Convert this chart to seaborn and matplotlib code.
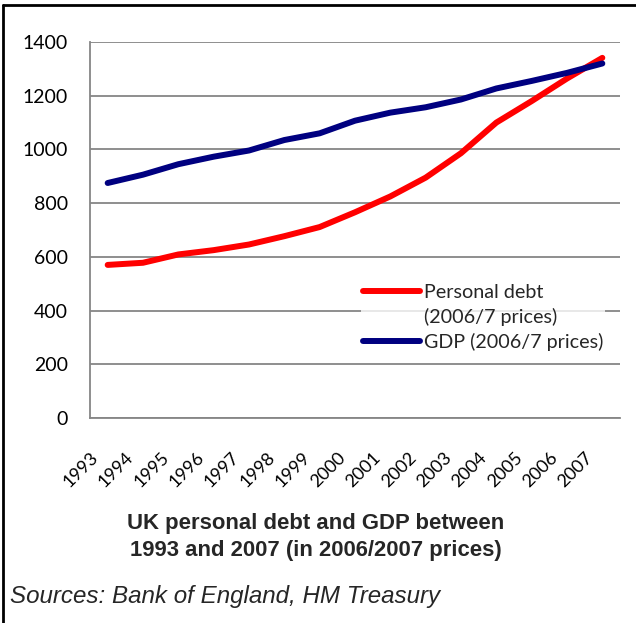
import numpy as np
import pandas as pd
import seaborn as sns
import matplotlib.pyplot as plt
from matplotlib.lines import Line2D

# values
years = ['1993', '1994', '1995', '1996', '1997', '1998', '1999', '2000',
         '2001', '2002', '2003', '2004', '2005', '2006', '2007']
personal_debt = [570, 578, 609, 625, 646, 677, 711, 766, 825, 895, 986, 1100, 1180, 1264, 1341]
gdp = [875, 906, 945, 973, 996, 1035, 1060, 1107, 1137, 1157, 1186, 1227, 1255, 1285, 1320]

debt_label = 'Personal debt'
debt_label_2 = '(2006/7 prices)'
gdp_label = 'GDP (2006/7 prices)'

df = pd.DataFrame({
    'pos': np.arange(len(years)) + 0.5,
    debt_label: personal_debt,
    gdp_label: gdp,
}).melt(id_vars='pos', var_name='series', value_name='value')

sns.set_style('white')
plt.rcParams['font.family'] = ['Lato', 'DejaVu Sans']

fig = plt.figure(figsize=(6.36, 6.23), dpi=100)
ax = fig.add_axes([90 / 636, 1 - 418 / 623, (620 - 90) / 636, (418 - 42) / 623])

sns.lineplot(data=df, x='pos', y='value', hue='series',
             palette={debt_label: '#ff0000', gdp_label: '#000080'},
             linewidth=4.3, ax=ax, legend=False)

grey = '#868686'
ax.set_xlim(0, len(years))
ax.set_ylim(0, 1400)
ax.set_yticks(range(0, 1401, 200))
ax.yaxis.grid(True, color=grey, linewidth=1.3)
ax.set_axisbelow(True)
for side in ['top', 'right']:
    ax.spines[side].set_visible(False)
for side in ['left', 'bottom']:
    ax.spines[side].set_color(grey)
    ax.spines[side].set_linewidth(1.3)

ax.set_xticks(range(len(years) + 1))
ax.set_xticklabels(years + [''])
ax.tick_params(axis='both', direction='out', length=5.8, width=1.3, color=grey,
               labelcolor='black')
ax.tick_params(axis='y', labelsize=14, pad=10)
ax.tick_params(axis='x', labelsize=13, pad=17)
for lbl in ax.get_xticklabels():
    lbl.set_rotation(45)
    lbl.set_ha('right')
    lbl.set_va('top')
    lbl.set_rotation_mode('anchor')
ax.set_xlabel('')
ax.set_ylabel('')

handles = [Line2D([], [], color='#ff0000', linewidth=4.3),
           Line2D([], [], color='none'),
           Line2D([], [], color='#000080', linewidth=4.3)]
leg = ax.legend(handles, [debt_label, debt_label_2, gdp_label], loc='upper left',
                bbox_to_anchor=((361 - 90) / 530, (418 - 282) / 376), frameon=True,
                facecolor='white', edgecolor='none', fontsize=14.2,
                handlelength=2.9, handletextpad=0.2, labelspacing=0.36,
                borderpad=0.1, borderaxespad=0)

fig.text(0.496, 1 - 537 / 623, 'UK personal debt and GDP between\n1993 and 2007 (in 2006/2007 prices)',
         ha='center', va='center', fontsize=15.9, fontweight='bold',
         family='Liberation Sans', linespacing=1.42)
fig.text(10 / 636, 1 - 597 / 623, 'Sources: Bank of England, HM Treasury',
         ha='left', va='center', fontsize=17.4, style='italic',
         family='Liberation Sans')

# frame lines along the top and left edge
fig.add_artist(Line2D([3 / 636, 1], [1 - 5 / 623, 1 - 5 / 623], color='black',
                      linewidth=2, transform=fig.transFigure))
fig.add_artist(Line2D([3 / 636, 3 / 636], [0, 1 - 5 / 623], color='black',
                      linewidth=2, transform=fig.transFigure))

fig.savefig('out.png', dpi=100)
